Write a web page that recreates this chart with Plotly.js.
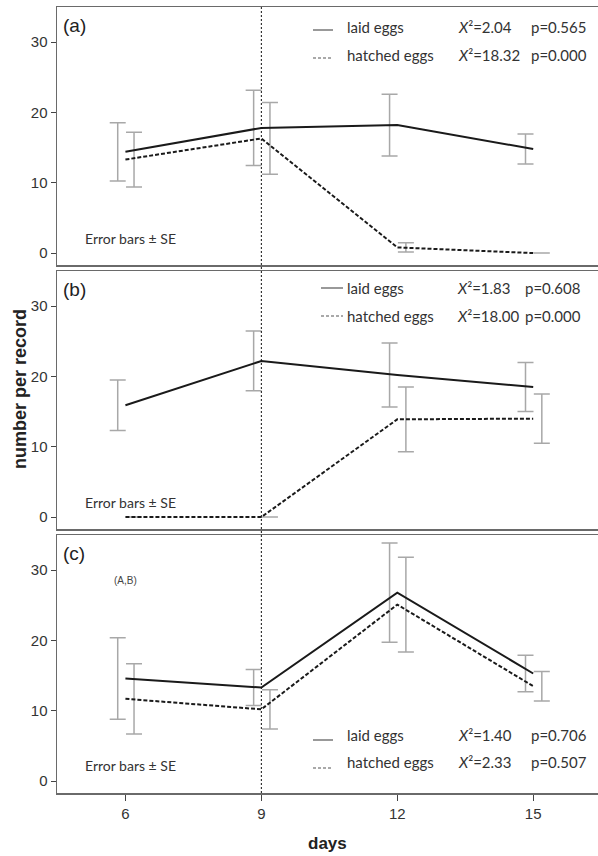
<!DOCTYPE html>
<html>
<head>
<meta charset="utf-8">
<script src="https://cdn.plot.ly/plotly-3.0.1.min.js"></script>
<style>html,body{margin:0;padding:0;background:#fff}#chart{width:598px;height:856px}</style>
</head>
<body>
<div id="chart"></div>
<script>
// ---- data ----
const days = [6, 9, 12, 15];
const xTickLabels = ["6", "9", "12", "15"];
const yTickVals = [0, 10, 20, 30];

const aLaid = [14.4, 17.8, 18.2, 14.8];
const aLaidSE = [4.15, 5.35, 4.4, 2.15];
const aHatched = [13.3, 16.3, 0.8, 0];
const aHatchedSE = [3.9, 5.1, 0.65, 0];

const bLaid = [15.9, 22.2, 20.2, 18.5];
const bLaidSE = [3.6, 4.25, 4.55, 3.5];
const bHatched = [0, 0, 13.9, 14.0];
const bHatchedSE = [0, 0, 4.6, 3.5];

const cLaid = [14.6, 13.3, 26.8, 15.3];
const cLaidSE = [5.8, 2.55, 7.05, 2.6];
const cHatched = [11.7, 10.2, 25.1, 13.5];
const cHatchedSE = [5.0, 2.8, 6.75, 2.1];

const panelLabels = ["(a)", "(b)", "(c)"];
const statsA = [["laid eggs", "2.04", "0.565"], ["hatched eggs", "18.32", "0.000"]];
const statsB = [["laid eggs", "1.83", "0.608"], ["hatched eggs", "18.00", "0.000"]];
const statsC = [["laid eggs", "1.40", "0.706"], ["hatched eggs", "2.33", "0.507"]];

// ---- layout helpers ----
const W = 598, H = 856, ML = 57, MT = 7, MB = 63;
const plotW = W - ML, plotH = H - MT - MB;
const PX = px => (px - ML) / plotW;
const PY = py => (H - MB - py) / plotH;
const offLaid = -0.17, offHatch = 0.19;
const lineCol = "#1a1a1a", errCol = "#a8a8a8", frameCol = "#6a6a6a";

const panels = [
  {laid: aLaid, laidSE: aLaidSE, hat: aHatched, hatSE: aHatchedSE},
  {laid: bLaid, laidSE: bLaidSE, hat: bHatched, hatSE: bHatchedSE},
  {laid: cLaid, laidSE: cLaidSE, hat: cHatched, hatSE: cHatchedSE}
];

const traces = [];
panels.forEach((p, i) => {
  const xa = i === 0 ? "x" : "x" + (i + 1);
  const ya = i === 0 ? "y" : "y" + (i + 1);
  traces.push({x: days.map(d => d + offLaid), y: p.laid, xaxis: xa, yaxis: ya, mode: "markers",
    marker: {size: 1, opacity: 0}, showlegend: false, hoverinfo: "skip",
    error_y: {type: "data", array: p.laidSE, visible: true, color: errCol, thickness: 1.5, width: 8}});
  traces.push({x: days.map(d => d + offHatch), y: p.hat, xaxis: xa, yaxis: ya, mode: "markers",
    marker: {size: 1, opacity: 0}, showlegend: false, hoverinfo: "skip",
    error_y: {type: "data", array: p.hatSE, visible: true, color: errCol, thickness: 1.5, width: 8}});
  traces.push({x: days, y: p.laid, xaxis: xa, yaxis: ya, mode: "lines", name: "laid eggs",
    line: {color: lineCol, width: 2}, showlegend: false});
  traces.push({x: days, y: p.hat, xaxis: xa, yaxis: ya, mode: "lines", name: "hatched eggs",
    line: {color: lineCol, width: 2, dash: "4px,2px"}, showlegend: false});
});

// panel pixel bounds (top, bottom)
const bounds = [[7, 265], [271, 529], [535, 793]];

const layout = {
  width: W, height: H,
  margin: {l: ML, r: 0, t: MT, b: MB, pad: 0},
  paper_bgcolor: "#fff", plot_bgcolor: "#fff",
  showlegend: false,
  font: {family: "Liberation Sans, Arial, sans-serif", color: "#333"},
  shapes: [], annotations: []
};

bounds.forEach((b, i) => {
  const sfx = i === 0 ? "" : String(i + 1);
  const isBottom = i === 2;
  layout["xaxis" + sfx] = {
    domain: [0, 1], anchor: "y" + sfx, range: [4.49, 16.43],
    tickvals: days, ticktext: xTickLabels,
    showticklabels: isBottom, ticks: isBottom ? "outside" : "",
    ticklen: 6, tickwidth: 1, tickcolor: "#444",
    tickfont: {size: 15, color: "#333", family: "Liberation Sans, Arial, sans-serif"},
    showgrid: false, zeroline: false, showline: true, mirror: true,
    linecolor: frameCol, linewidth: 1.5, fixedrange: true
  };
  if (i > 0) layout["xaxis" + sfx].matches = "x";
  layout["yaxis" + sfx] = {
    domain: [PY(b[1]), PY(b[0])], anchor: "x" + sfx, range: [-1.7, 35.0],
    tickvals: yTickVals, ticks: "outside", ticklen: 5, tickwidth: 1, tickcolor: "#444",
    tickfont: {size: 15, color: "#333", family: "Liberation Sans, Arial, sans-serif"},
    showgrid: false, zeroline: false, showline: true, mirror: false,
    linecolor: frameCol, linewidth: 1.5, fixedrange: true
  };
  // panel letter
  layout.annotations.push({xref: "paper", yref: "paper", x: PX(61), y: PY(b[0] + 18),
    xanchor: "left", yanchor: "middle", showarrow: false, text: panelLabels[i],
    font: {size: 19, color: "#222", family: "Liberation Sans, Arial, sans-serif"}});
});

// Error bars ± SE notes
[238, 502, 765].forEach(py => {
  layout.annotations.push({xref: "paper", yref: "paper", x: PX(83), y: PY(py),
    xanchor: "left", yanchor: "middle", showarrow: false, text: "Error bars ± SE",
    font: {size: 14, color: "#333", family: "Lato, sans-serif"}});
});

// (A,B) note in panel c
layout.annotations.push({xref: "paper", yref: "paper", x: PX(112), y: PY(580),
  xanchor: "left", yanchor: "middle", showarrow: false, text: "(A,B)",
  font: {size: 10, color: "#444", family: "Liberation Sans, Arial, sans-serif"}});

// legends with stats
const legendSpecs = [
  {stats: statsA, rows: [27, 55], lineY: [30, 58], sx: [313, 333], tx: 345, chi: 456, p: 529},
  {stats: statsB, rows: [288, 316], lineY: [288, 316], sx: [321, 343], tx: 345, chi: 455, p: 523},
  {stats: statsC, rows: [735, 762], lineY: [740, 768], sx: [313, 333], tx: 345, chi: 456, p: 529}
];
const legFont = {size: 15, color: "#333", family: "Lato, sans-serif"};
legendSpecs.forEach(L => {
  L.stats.forEach((s, r) => {
    layout.shapes.push({type: "line", xref: "paper", yref: "paper",
      x0: PX(L.sx[0]), x1: PX(L.sx[1]), y0: PY(L.lineY[r]), y1: PY(L.lineY[r]),
      line: {color: "#555", width: 1.2, dash: r === 0 ? "solid" : "3px,2px"}});
    layout.annotations.push({xref: "paper", yref: "paper", x: PX(L.tx), y: PY(L.rows[r]),
      xanchor: "left", yanchor: "middle", showarrow: false, text: s[0], font: legFont});
    layout.annotations.push({xref: "paper", yref: "paper", x: PX(L.chi), y: PY(L.rows[r]),
      xanchor: "left", yanchor: "middle", showarrow: false,
      text: "<i>X</i>²=" + s[1], font: legFont});
    layout.annotations.push({xref: "paper", yref: "paper", x: PX(L.p), y: PY(L.rows[r]),
      xanchor: "left", yanchor: "middle", showarrow: false, text: "p=" + s[2], font: legFont});
  });
});

// vertical dotted reference line at day 9 through all panels
layout.shapes.push({type: "line", xref: "x", yref: "paper", x0: days[1], x1: days[1], y0: 0, y1: 1,
  line: {color: "#111", width: 1, dash: "2px,2px"}, layer: "above"});

// axis titles
layout.annotations.push({xref: "paper", yref: "paper", x: PX(20), y: PY(389),
  xanchor: "center", yanchor: "middle", textangle: -90, showarrow: false,
  text: "<b>number per record</b>", font: {size: 18, color: "#222", family: "Liberation Sans, Arial, sans-serif"}});
layout.annotations.push({xref: "paper", yref: "paper", x: PX(327), y: PY(843),
  xanchor: "center", yanchor: "middle", showarrow: false,
  text: "<b>days</b>", font: {size: 17, color: "#222", family: "Liberation Sans, Arial, sans-serif"}});

Plotly.newPlot("chart", traces, layout, {displayModeBar: false, staticPlot: true});
</script>
</body>
</html>
